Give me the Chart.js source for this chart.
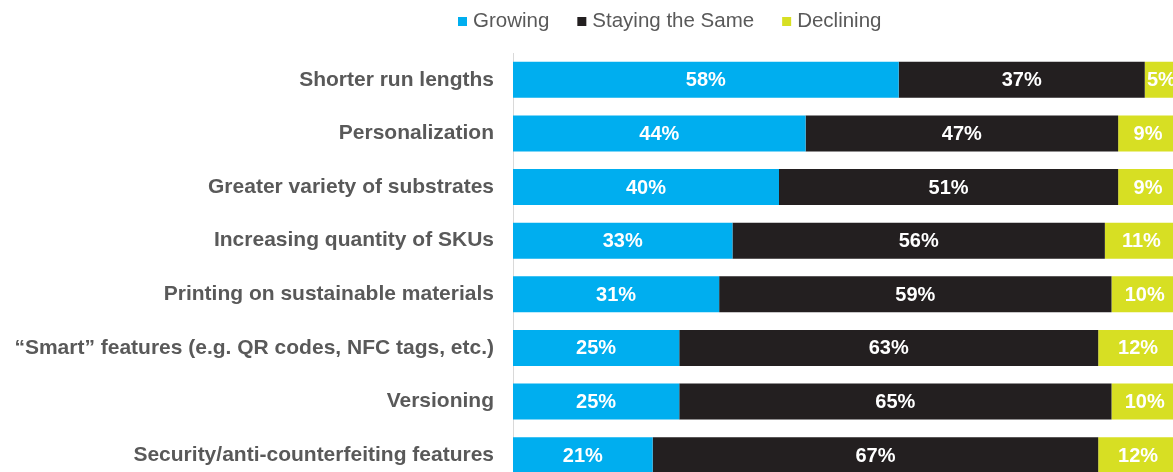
<!DOCTYPE html>
<html lang="en">
<head>
<meta charset="UTF-8">
<title>Growing / Staying the Same / Declining</title>
<script src="https://cdn.jsdelivr.net/npm/chart.js"></script>
<style>
    html, body {
        margin: 0;
        padding: 0;
        overflow: hidden;
        background: #ffffff;
    }
    canvas { display: block; }
</style>
</head>
<body>
<!-- a bit wider/taller than the window: the original is cropped at right and bottom -->
<canvas id="chart" width="1178" height="482"></canvas>

<script>
    const categories = [
        "Shorter run lengths",
        "Personalization",
        "Greater variety of substrates",
        "Increasing quantity of SKUs",
        "Printing on sustainable materials",
        "\u201cSmart\u201d features (e.g. QR codes, NFC tags, etc.)",
        "Versioning",
        "Security/anti-counterfeiting features"
    ];
    const seriesNames = ["Growing", "Staying the Same", "Declining"];
    const growing = [58, 44, 40, 33, 31, 25, 25, 21];
    const stayingSame = [37, 47, 51, 56, 59, 63, 65, 67];
    const declining = [5, 9, 9, 11, 10, 12, 10, 12];

    const FONT = "'Liberation Sans', Arial, sans-serif";
    const GREY = "#595959";

    // white % labels centred in each segment
    const barLabels = {
        id: "barLabels",
        afterDatasetsDraw(chart) {
            const ctx = chart.ctx;
            ctx.save();
            ctx.font = "bold 20px " + FONT;
            ctx.fillStyle = "#ffffff";
            ctx.textAlign = "center";
            ctx.textBaseline = "middle";
            chart.data.datasets.forEach((ds, i) => {
                chart.getDatasetMeta(i).data.forEach((bar, j) => {
                    const p = bar.getProps(["x", "y", "base"], true);
                    ctx.fillText(ds.data[j] + "%", (p.x + p.base) / 2, p.y + 1);
                });
            });
            ctx.restore();
        }
    };

    // legend row at the top (built-in legend pads too much vertically)
    const topLegend = {
        id: "topLegend",
        afterDraw(chart) {
            const ctx = chart.ctx;
            ctx.save();
            ctx.font = "20.5px " + FONT;
            ctx.textBaseline = "middle";
            let x = 458;
            const y = 21;
            chart.data.datasets.forEach(ds => {
                ctx.fillStyle = ds.backgroundColor;
                ctx.fillRect(x, y - 4, 9, 9);
                ctx.fillStyle = GREY;
                ctx.fillText(ds.label, x + 15, y);
                x += 15 + ctx.measureText(ds.label).width + 28;
            });
            ctx.restore();
        }
    };

    new Chart(document.getElementById("chart"), {
        type: "bar",
        data: {
            labels: categories,
            datasets: [
                { label: seriesNames[0], data: growing, backgroundColor: "#00AEEF" },
                { label: seriesNames[1], data: stayingSame, backgroundColor: "#231F20" },
                { label: seriesNames[2], data: declining, backgroundColor: "#D7DF23" }
            ]
        },
        options: {
            indexAxis: "y",
            responsive: false,
            animation: false,
            layout: { padding: { top: 53, left: 0, right: 0, bottom: 0 } },
            datasets: {
                bar: { categoryPercentage: 1, barPercentage: 0.67, borderWidth: 0 }
            },
            scales: {
                x: { stacked: true, min: 0, max: 100, display: false },
                y: {
                    stacked: true,
                    grid: { display: false, drawTicks: false },
                    border: { display: true, color: "#d9d9d9", width: 1 },
                    ticks: {
                        color: GREY,
                        padding: 19,
                        font: { family: FONT, size: 21, weight: "bold" }
                    },
                    afterFit(scale) {
                        scale.width = 513;
                        // tick padding otherwise eats space above/below the bars
                        scale.paddingTop = 0;
                        scale.paddingBottom = 0;
                    }
                }
            },
            plugins: {
                legend: { display: false },
                tooltip: { enabled: false }
            }
        },
        plugins: [barLabels, topLegend]
    });
</script>
</body>
</html>
